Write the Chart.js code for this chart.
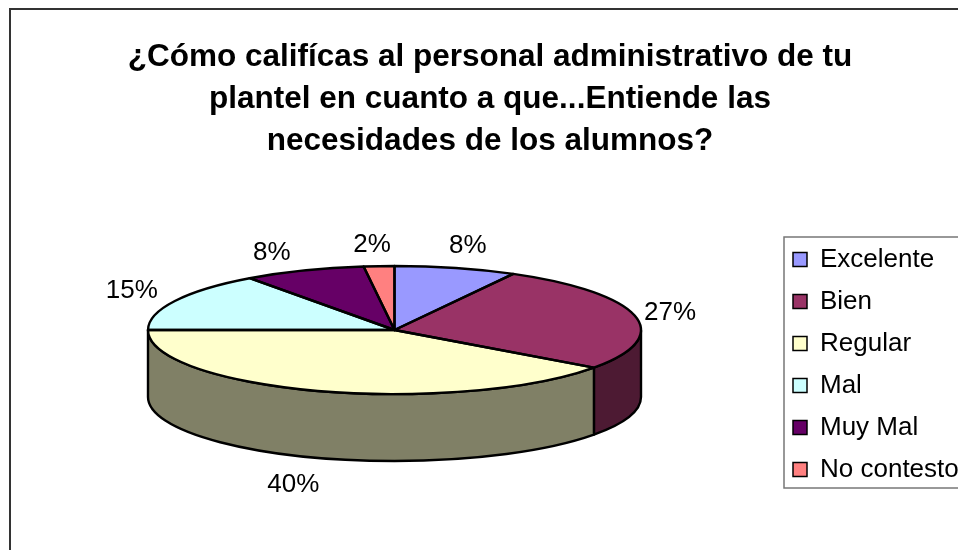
<!DOCTYPE html>
<html><head><meta charset="utf-8">
<style>html,body{margin:0;padding:0;background:#fff;overflow:hidden}canvas{display:block}</style>
<script src="https://cdn.jsdelivr.net/npm/chart.js@4"></script>
</head><body><canvas id="c" width="958" height="550"></canvas>
<script>
const titleLines = ["¿Cómo califícas al personal administrativo de tu","plantel en cuanto a que...Entiende las","necesidades de los alumnos?"];
const categories = ["Excelente","Bien","Regular","Mal","Muy Mal","No contesto"];
const values = [8,27,40,15,8,2];
const percentLabels = ["8%","27%","40%","15%","8%","2%"];
const topColors = ["#9999FF","#993366","#FFFFCC","#CCFFFF","#660066","#FF8080"];
const sideColors = ["#4D4D80","#4D1A33","#808066","#668080","#330033","#804040"];
const labelOffsets = [[12,-22],[35,-3],[-25,27],[-43,-10],[-32,-18],[-7,-21]];
const FONT = '"Liberation Sans", Arial, sans-serif';
const PIE = {cx:394.5, cy:330, rx:246.5, ry:64, depth:67};

const pie3d = {
  id:'pie3d',
  beforeDraw(chart){
    const c = chart.ctx;
    c.save();
    c.fillStyle='#fff'; c.fillRect(0,0,chart.width,chart.height);
    c.strokeStyle='#333'; c.lineWidth=2;
    c.beginPath(); c.moveTo(10,chart.height+2); c.lineTo(10,9); c.lineTo(chart.width+2,9); c.stroke();
    c.strokeStyle='#777'; c.lineWidth=1.5;
    c.strokeRect(784,237,200,251);
    c.restore();
  },
  afterLayout(chart){
    const lg = chart.legend;
    lg.left = 777; lg.right = 1000; lg.top = 230.5;
    const t = chart.titleBlock;
    t.left = 22; t.right = chart.width;
  },
  beforeDatasetsDraw(chart){
    const c = chart.ctx, arcs = chart.getDatasetMeta(0).data;
    c.save();
    c.lineWidth=2.4; c.strokeStyle='#000'; c.lineJoin='round';
    arcs.forEach((a,i)=>{
      const s=norm(a.startAngle), e=s+(a.endAngle-a.startAngle);
      [[s,e],[s-2*Math.PI,e-2*Math.PI]].forEach(([p,q])=>{
        const from=Math.max(p,0), to=Math.min(q,Math.PI);
        if(to<=from) return;
        c.beginPath();
        c.ellipse(PIE.cx,PIE.cy,PIE.rx,PIE.ry,0,from,to);
        c.ellipse(PIE.cx,PIE.cy+PIE.depth,PIE.rx,PIE.ry,0,to,from,true);
        c.closePath();
        c.fillStyle=sideColors[i]; c.fill(); c.stroke();
      });
    });
    c.restore();
    const a0=arcs[0];
    c.save();
    c.translate(PIE.cx,PIE.cy);
    c.scale(PIE.rx/a0.outerRadius,PIE.ry/a0.outerRadius);
    c.translate(-a0.x,-a0.y);
  },
  afterDatasetsDraw(chart){
    const c = chart.ctx, arcs = chart.getDatasetMeta(0).data;
    c.restore();
    c.save();
    c.lineWidth=2.4; c.strokeStyle='#000'; c.lineJoin='round';
    arcs.forEach(a=>{
      c.beginPath();
      c.moveTo(PIE.cx,PIE.cy);
      c.ellipse(PIE.cx,PIE.cy,PIE.rx,PIE.ry,0,a.startAngle,a.endAngle);
      c.closePath(); c.stroke();
    });
    c.fillStyle='#000'; c.font='26px '+FONT; c.textAlign='center'; c.textBaseline='middle';
    arcs.forEach((a,i)=>{
      const m=(a.startAngle+a.endAngle)/2;
      const x=PIE.cx+PIE.rx*Math.cos(m), y=PIE.cy+PIE.ry*Math.sin(m)+(Math.sin(m)>0?PIE.depth:0);
      c.fillText(percentLabels[i],x+labelOffsets[i][0],y+labelOffsets[i][1]);
    });
    c.restore();
  }
};
function norm(t){ while(t<0) t+=2*Math.PI; return t; }

new Chart(document.getElementById('c'),{
  type:'pie',
  data:{labels:categories,datasets:[{data:values,backgroundColor:topColors,borderWidth:0}]},
  options:{
    responsive:false,animation:false,devicePixelRatio:1,
    layout:{padding:0},
    plugins:{
      tooltip:{enabled:false},
      title:{display:true,text:titleLines,color:'#000',align:'center',
        font:{family:FONT,size:31.5,weight:'bold',lineHeight:1.333},padding:{top:36,bottom:10}},
      legend:{position:'right',align:'start',
        labels:{color:'#000',font:{family:FONT,size:26},boxWidth:14,boxHeight:14,padding:16,
          generateLabels(ch){
            return Chart.overrides.pie.plugins.legend.labels.generateLabels(ch).map(l=>({...l,strokeStyle:'#000',lineWidth:1.5}));
          }}}
    }
  },
  plugins:[pie3d]
});
</script></body></html>
